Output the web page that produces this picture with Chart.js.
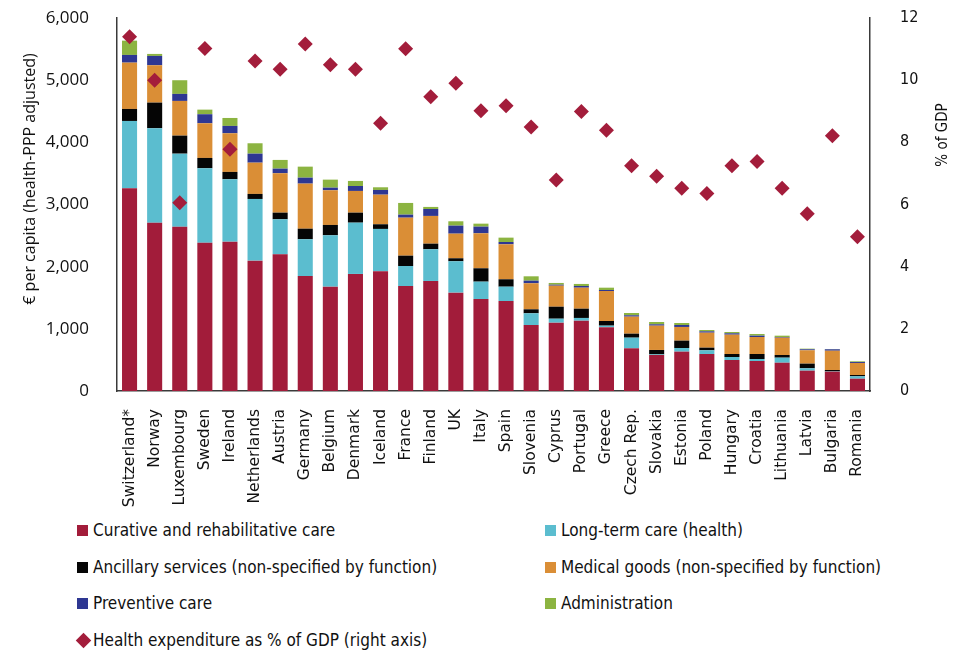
<!DOCTYPE html>
<html>
<head>
<meta charset="utf-8">
<script src="https://cdn.jsdelivr.net/npm/chart.js@4.4.1/dist/chart.umd.min.js"></script>
<style>
  html, body { margin: 0; padding: 0; background: #fff; }
  #wrap { position: relative; width: 961px; height: 652px; overflow: hidden; }
  #chartBox { position: absolute; left: 0; top: 0; width: 961px; height: 520px; }
  .lg { position: absolute; font-family: "DejaVu Sans Condensed", "DejaVu Sans", sans-serif; font-size: 17px; color: #111; line-height: 20px; white-space: nowrap; }
  .mk { position: absolute; width: 11px; height: 11px; }
  .dm { position: absolute; width: 11px; height: 11px; transform: rotate(45deg); }
</style>
</head>
<body>
<div id="wrap">
  <div id="chartBox"><canvas id="c"></canvas></div>
  <div id="legend"></div>
</div>
<script>
const countries = ["Switzerland*","Norway","Luxembourg","Sweden","Ireland","Netherlands","Austria","Germany","Belgium","Denmark","Iceland","France","Finland","UK","Italy","Spain","Slovenia","Cyprus","Portugal","Greece","Czech Rep.","Slovakia","Estonia","Poland","Hungary","Croatia","Lithuania","Latvia","Bulgaria","Romania"];

const curative   = [3261,2708,2644,2386,2402,2097,2199,1850,1678,1883,1926,1689,1770,1582,1480,1448,1062,1099,1131,1025,687,579,633,595,499,483,455,327,311,198];
const longTerm   = [1083,1519,1174,1197,1004,992,563,591,827,825,681,322,510,505,279,230,188,64,44,26,171,10,59,60,48,32,81,38,5,38];
const ancillary  = [193,412,290,166,118,81,107,170,166,161,75,166,90,48,215,119,64,193,149,75,64,71,118,42,48,80,43,75,22,21];
const medical    = [745,601,558,558,622,503,634,725,558,349,476,611,446,396,563,563,419,338,338,483,274,391,220,241,311,274,279,215,310,194];
const preventive = [124,150,113,145,118,145,74,96,42,80,76,49,112,129,107,37,42,16,27,16,22,22,32,22,22,21,11,16,23,16];
const admin      = [230,32,220,74,128,167,140,177,129,81,43,188,33,70,48,70,70,28,33,37,37,37,32,21,21,27,21,10,5,11];
const gdpShare   = [11.40,10.0,6.06,11.02,7.78,10.62,10.35,11.16,10.50,10.35,8.61,11.01,9.47,9.90,9.02,9.18,8.49,6.79,8.99,8.39,7.25,6.91,6.52,6.35,7.25,7.38,6.52,5.70,8.21,4.96];

const leftTicks = [0,1000,2000,3000,4000,5000,6000];
const rightTicks = [0,2,4,6,8,10,12];

const seriesNames = ["Curative and rehabilitative care","Long-term care (health)","Ancillary services (non-specified by function)","Medical goods (non-specified by function)","Preventive care","Administration"];
const lineName = "Health expenditure as % of GDP (right axis)";
const colors = ["#A21C3A","#5BBDCF","#050505","#DA8E36","#2E3792","#8CB441"];
const diamondColor = "#A31D3B";
const seriesData = [curative, longTerm, ancillary, medical, preventive, admin];

const barSets = seriesData.map((d, i) => ({
  type: 'bar',
  label: seriesNames[i],
  data: d,
  backgroundColor: colors[i],
  borderWidth: 0,
  stack: 's',
  yAxisID: 'y',
  order: 1,
  barPercentage: 1,
  categoryPercentage: 0.6
}));

const lineSet = {
  type: 'line',
  label: lineName,
  data: gdpShare,
  yAxisID: 'y1',
  showLine: false,
  pointStyle: 'rectRot',
  pointRadius: 7.5,
  pointHoverRadius: 7.5,
  pointBackgroundColor: diamondColor,
  pointBorderColor: diamondColor,
  pointBorderWidth: 0,
  order: 0
};

const titlePlugin = {
  id: 'axisTitles',
  afterDraw(chart) {
    const ctx = chart.ctx;
    ctx.save();
    ctx.fillStyle = '#111';
    ctx.textAlign = 'center';
    ctx.textBaseline = 'middle';
    ctx.font = '16px "Open Sans", sans-serif';
    ctx.translate(30, 179);
    ctx.rotate(-Math.PI / 2);
    ctx.fillText('€ per capita (health-PPP adjusted)', 0, 0);
    ctx.restore();
    ctx.save();
    ctx.fillStyle = '#111';
    ctx.textAlign = 'center';
    ctx.textBaseline = 'middle';
    ctx.font = '15px "DejaVu Sans Condensed", "DejaVu Sans", sans-serif';
    ctx.translate(943, 135);
    ctx.rotate(-Math.PI / 2);
    ctx.fillText('% of GDP', 0, 0);
    ctx.restore();
  }
};

function fixVertical(width) {
  return function (s) {
    s.width = width;
    s.paddingTop = 0;
    s.paddingBottom = 0;
  };
}

new Chart(document.getElementById('c'), {
  data: { labels: countries, datasets: [...barSets, lineSet] },
  options: {
    responsive: true,
    maintainAspectRatio: false,
    animation: false,
    events: [],
    layout: { padding: { left: 0, right: 0, top: 18, bottom: 0 } },
    plugins: { legend: { display: false }, tooltip: { enabled: false } },
    scales: {
      x: {
        stacked: true,
        grid: { display: false },
        border: { display: true, color: '#3a3a3a', width: 1.5 },
        ticks: {
          autoSkip: false, maxRotation: 90, minRotation: 90, padding: 10,
          color: '#111',
          font: { family: '"DejaVu Sans", sans-serif', size: 15.5 }
        },
        afterFit(s) { s.height = 129; s.paddingLeft = 0; s.paddingRight = 0; }
      },
      y: {
        stacked: true,
        position: 'left',
        min: 0, max: 6000,
        afterBuildTicks(s) { s.ticks = leftTicks.map(v => ({ value: v })); },
        grid: { display: false },
        border: { display: true, color: '#3a3a3a', width: 1.5 },
        ticks: {
          padding: 20, color: '#111',
          font: { family: '"Open Sans", sans-serif', size: 17 },
          callback: v => v.toLocaleString('en-US')
        },
        afterFit: fixVertical(117)
      },
      y1: {
        position: 'right',
        min: 0, max: 12,
        afterBuildTicks(s) { s.ticks = rightTicks.map(v => ({ value: v })); },
        grid: { display: false },
        border: { display: true, color: '#3a3a3a', width: 1.5 },
        ticks: {
          padding: 22, color: '#111',
          font: { family: '"DejaVu Sans Condensed", "DejaVu Sans", sans-serif', size: 16 }
        },
        afterFit: fixVertical(91)
      }
    }
  },
  plugins: [titlePlugin]
});

// HTML legend
const legend = document.getElementById('legend');
const legendLayout = [
  { col: 0, row: 0, i: 0 }, { col: 1, row: 0, i: 1 },
  { col: 0, row: 1, i: 2 }, { col: 1, row: 1, i: 3 },
  { col: 0, row: 2, i: 4 }, { col: 1, row: 2, i: 5 }
];
const rowY = [530, 567, 603, 640];
const colMarkX = [77, 545];
const colTextX = [93, 561];
legendLayout.forEach(e => {
  const m = document.createElement('div');
  m.className = 'mk';
  m.style.left = colMarkX[e.col] + 'px';
  m.style.top = (rowY[e.row] - 5.5) + 'px';
  m.style.background = colors[e.i];
  legend.appendChild(m);
  const t = document.createElement('div');
  t.className = 'lg';
  t.style.left = colTextX[e.col] + 'px';
  t.style.top = (rowY[e.row] - 10) + 'px';
  t.textContent = seriesNames[e.i];
  legend.appendChild(t);
});
const dm = document.createElement('div');
dm.className = 'dm';
dm.style.left = (83 - 5.5) + 'px';
dm.style.top = (rowY[3] - 5.5) + 'px';
dm.style.background = diamondColor;
legend.appendChild(dm);
const dt = document.createElement('div');
dt.className = 'lg';
dt.style.left = colTextX[0] + 'px';
dt.style.top = (rowY[3] - 10) + 'px';
dt.textContent = lineName;
legend.appendChild(dt);
</script>
</body>
</html>
